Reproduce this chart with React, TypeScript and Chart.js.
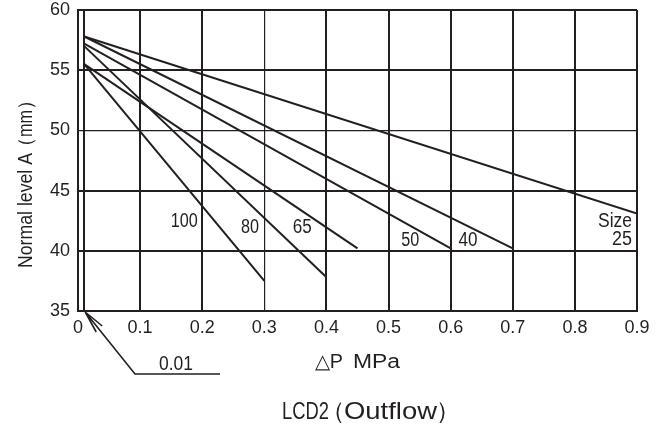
import React, { useEffect, useRef } from "react";
import { Chart, registerables } from "chart.js";

Chart.register(...registerables);

// ---- data ----
const sizes = ["25", "40", "50", "65", "80", "100"];
const startPressure = [0.01, 0.01, 0.01, 0.01, 0.01, 0.01];
const startLevel = [57.8, 57.8, 57.2, 55.5, 57.0, 55.5];
const endPressure = [0.9, 0.7, 0.6, 0.45, 0.4, 0.3];
const endLevel = [43.1, 40.2, 40.2, 40.2, 37.8, 37.5];
const xTicks = [0, 0.01, 0.1, 0.2, 0.3, 0.4, 0.5, 0.6, 0.7, 0.8, 0.9];
const yTicks = [35, 40, 45, 50, 55, 60];

const INK = "#231f20";
const FONT = "'Liberation Sans', Arial, sans-serif";

function fitText(
  ctx: CanvasRenderingContext2D,
  text: string,
  x: number,
  y: number,
  width: number,
  size: number,
  align: "left" | "center" | "right"
) {
  ctx.save();
  ctx.font = `${size}px ${FONT}`;
  const w = ctx.measureText(text).width;
  const s = width / w;
  let left = x;
  if (align === "center") left = x - width / 2;
  if (align === "right") left = x - width;
  ctx.translate(left, y);
  ctx.scale(s, 1);
  ctx.textAlign = "left";
  ctx.textBaseline = "middle";
  ctx.fillStyle = INK;
  ctx.fillText(text, 0, 0);
  ctx.restore();
}

function plainText(
  ctx: CanvasRenderingContext2D,
  text: string,
  x: number,
  y: number,
  size: number,
  align: "left" | "center" | "right"
) {
  ctx.save();
  ctx.font = `${size}px ${FONT}`;
  ctx.textAlign = align;
  ctx.textBaseline = "middle";
  ctx.fillStyle = INK;
  ctx.fillText(text, x, y);
  ctx.restore();
}

const annotations = {
  id: "annotations",
  afterDraw(chart: any) {
    const ctx: CanvasRenderingContext2D = chart.ctx;
    const xs = chart.scales.x;
    const ys = chart.scales.y;
    const px = (v: number) => xs.getPixelForValue(v);
    const py = (v: number) => ys.getPixelForValue(v);

    // size labels: text, x, y (data units), width px, align
    const labelSpots: [string, number, number, number, "center" | "right"][] = [
      ["100", 0.171, 42.46, 27, "center"],
      ["80", 0.277, 41.96, 18, "center"],
      ["65", 0.361, 41.96, 19, "center"],
      ["50", 0.535, 40.88, 18, "center"],
      ["40", 0.628, 40.88, 19, "center"],
      ["Size", 0.892, 42.46, 34, "right"],
      ["25", 0.892, 40.96, 20, "right"],
    ];
    for (const [t, x, y, w, a] of labelSpots) {
      fitText(ctx, t, px(x), py(y), w, 20, a);
    }

    // y-axis title (rotated)
    ctx.save();
    ctx.translate(26, 268);
    ctx.rotate(-Math.PI / 2);
    fitText(ctx, "Normal level A", 0, 0, 115, 20, "left");
    plainText(ctx, "（", 131, 0, 20, "right");
    fitText(ctx, "mm", 131, 0, 27, 20, "left");
    plainText(ctx, "）", 158, 0, 20, "left");
    ctx.restore();

    // x-axis title
    fitText(ctx, "△P", 315, 362, 28, 20, "left");
    fitText(ctx, "MPa", 353, 362, 47, 20, "left");

    // chart caption
    fitText(ctx, "LCD2", 282, 412, 47, 24, "left");
    plainText(ctx, "（", 345, 412, 24, "right");
    fitText(ctx, "Outflow", 344, 412, 93, 24, "left");
    plainText(ctx, "）", 436, 412, 24, "left");

    // 0.01 leader
    const tx = px(0.01) + 1;
    const ty = py(35) + 1;
    ctx.save();
    ctx.strokeStyle = INK;
    ctx.lineWidth = 1.6;
    ctx.beginPath();
    ctx.moveTo(tx, ty);
    ctx.lineTo(135, 374);
    ctx.lineTo(220, 374);
    ctx.moveTo(tx, ty);
    ctx.lineTo(tx + 17, ty + 14);
    ctx.moveTo(tx, ty);
    ctx.lineTo(tx + 11, ty + 20);
    ctx.stroke();
    ctx.restore();
    fitText(ctx, "0.01", 176, 364, 34, 20, "center");
  },
};

export default function App() {
  const ref = useRef<HTMLCanvasElement>(null);
  useEffect(() => {
    if (!ref.current) return;
    const datasets = sizes.map((s, i) => ({
      label: s,
      data: [
        { x: startPressure[i], y: startLevel[i] },
        { x: endPressure[i], y: endLevel[i] },
      ],
      showLine: true,
      borderColor: INK,
      borderWidth: 2,
      pointRadius: 0,
      fill: false,
    }));
    const chart = new Chart(ref.current, {
      type: "scatter",
      data: { datasets },
      options: {
        responsive: false,
        animation: false,
        layout: { padding: { top: 10, right: 26, left: 0, bottom: 0 } },
        plugins: { legend: { display: false }, tooltip: { enabled: false } },
        scales: {
          x: {
            type: "linear",
            min: 0,
            max: 0.9,
            afterBuildTicks: (scale: any) => {
              scale.ticks = xTicks.map((v) => ({ value: v }));
            },
            afterFit: (scale: any) => {
              scale.height = 117;
              scale.paddingLeft = 0;
              scale.paddingRight = 0;
            },
            ticks: {
              autoSkip: false,
              maxRotation: 0,
              padding: 6,
              color: INK,
              font: { family: FONT, size: 18 },
              callback: (v: any) => {
                const n = Number(v);
                if (Math.abs(n - 0.01) < 1e-9) return "";
                return n === 0 ? "0" : n.toFixed(1);
              },
            },
            grid: {
              color: INK,
              lineWidth: (c: any) => (c.tick && Math.abs(c.tick.value - 0.3) < 1e-9 ? 1.2 : 2),
              drawTicks: false,
            },
            border: { display: true, color: INK, width: 2 },
          },
          y: {
            type: "linear",
            min: 35,
            max: 60,
            afterBuildTicks: (scale: any) => {
              scale.ticks = yTicks.map((v) => ({ value: v }));
            },
            afterFit: (scale: any) => {
              scale.width = 78;
              scale.paddingTop = 0;
              scale.paddingBottom = 0;
            },
            ticks: {
              padding: 8,
              color: INK,
              font: { family: FONT, size: 18 },
            },
            grid: {
              color: INK,
              lineWidth: (c: any) => (c.tick && c.tick.value === 50 ? 1.2 : 2),
              drawTicks: false,
            },
            border: { display: true, color: INK, width: 2 },
          },
        },
      },
      plugins: [annotations],
    } as any);
    return () => chart.destroy();
  }, []);
  return (
    <div style={{ position: "absolute", left: 0, top: 0, width: 663, height: 428, background: "#fff" }}>
      <canvas ref={ref} width={663} height={428} />
    </div>
  );
}
